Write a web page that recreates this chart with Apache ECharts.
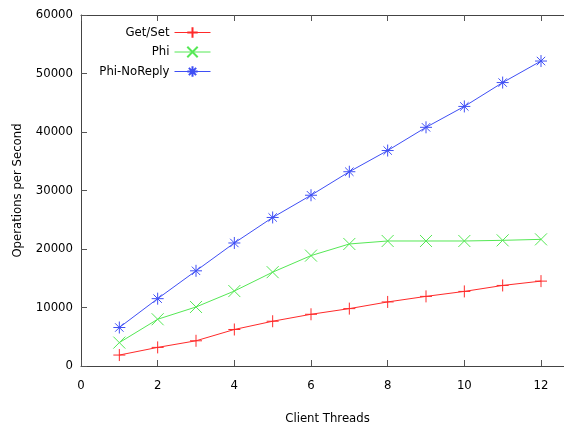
<!DOCTYPE html>
<html>
<head>
<meta charset="utf-8">
<script src="https://cdn.jsdelivr.net/npm/echarts@6/dist/echarts.min.js"></script>
<style>
html,body{margin:0;padding:0;background:#fff;}
#c{width:564px;height:430px;}
</style>
</head>
<body>
<div id="c"></div>
<script>
var threads = [1,2,3,4,5,6,7,8,9,10,11,12];
var getSet = [1870,3180,4310,6240,7650,8840,9810,10950,11900,12750,13770,14510];
var phi = [4000,7990,10090,12810,16040,18870,20860,21370,21370,21370,21480,21650];
var phiNoReply = [6580,11510,16270,21030,25390,29190,33210,36830,40800,44370,48450,52130];
var seriesNames = ['Get/Set','Phi','Phi-NoReply'];
var xTicks = [0,2,4,6,8,10,12];

var FONT = '"DejaVu Sans Condensed","DejaVu Sans",sans-serif';
var colors = ['#ff2a2a','#55e855','#3f4ff5'];
var symPlus = 'path://M0,5L10,5M5,0L5,10';
var symX = 'path://M0,0L10,10M10,0L0,10';
var symStar = 'path://M0,5L10,5M5,0L5,10M1.5,1.5L8.5,8.5M8.5,1.5L1.5,8.5';
var syms = [symPlus, symX, symStar];
var datas = [getSet, phi, phiNoReply];

function pairs(arr){ return threads.map(function(t,i){ return [t, arr[i]]; }); }

var series = datas.map(function(d,i){
  return {
    name: seriesNames[i],
    type: 'line',
    data: pairs(d),
    symbol: syms[i],
    symbolSize: 12,
    showAllSymbol: true,
    lineStyle: {color: colors[i], width: 1},
    itemStyle: {color: colors[i], borderColor: colors[i], borderWidth: 1},
    emphasis: {disabled: true},
    animation: false
  };
});

var legendTops = [26, 45.5, 65];
var legends = seriesNames.map(function(n,i){
  return {
    data: [n],
    orient: 'vertical',
    right: 353,
    top: legendTops[i],
    align: 'right',
    itemWidth: 36,
    itemHeight: 13,
    itemGap: 0,
    padding: 0,
    lineStyle: {width: 1},
    textStyle: {fontFamily: FONT, fontSize: 13, color: '#000'}
  };
});

var option = {
  backgroundColor: '#fff',
  animation: false,
  textStyle: {fontFamily: FONT},
  legend: legends,
  grid: {left: 81, right: 0, top: 15, bottom: 62, containLabel: false},
  xAxis: [{
    type: 'value', min: 0, max: 12.6, interval: 2,
    name: 'Client Threads', nameLocation: 'middle', nameGap: 46,
    nameTextStyle: {fontFamily: FONT, fontSize: 13, color: '#000', padding: [0,0,0,10]},
    axisLine: {show: true, onZero: false, lineStyle: {color: '#444', width: 1}},
    axisTick: {show: true, inside: true, length: 6, lineStyle: {color: '#555'}},
    axisLabel: {fontFamily: FONT, fontSize: 13, color: '#000', margin: 13, showMaxLabel: false,
      formatter: function(v){ return xTicks.indexOf(v) >= 0 ? String(v) : ''; }},
    splitLine: {show: false}
  },{
    type: 'value', min: 0, max: 12.6, interval: 2, position: 'top',
    axisLine: {show: true, onZero: false, lineStyle: {color: '#444', width: 1}},
    axisTick: {show: true, inside: true, length: 6, lineStyle: {color: '#555'}},
    axisLabel: {show: false},
    splitLine: {show: false}
  }],
  yAxis: {
    type: 'value', min: 0, max: 60000, interval: 10000,
    name: 'Operations per Second', nameLocation: 'middle', nameGap: 57,
    nameTextStyle: {fontFamily: FONT, fontSize: 13, color: '#000'},
    axisLine: {show: true, onZero: false, lineStyle: {color: '#444', width: 1}},
    axisTick: {show: true, inside: true, length: 6, lineStyle: {color: '#555'}},
    axisLabel: {fontFamily: FONT, fontSize: 13, color: '#000', margin: 8,
      formatter: function(v){ return String(v); }},
    splitLine: {show: false}
  },
  series: series
};

var chart = echarts.init(document.getElementById('c'), null, {renderer: 'canvas'});
chart.setOption(option);
</script>
</body>
</html>
